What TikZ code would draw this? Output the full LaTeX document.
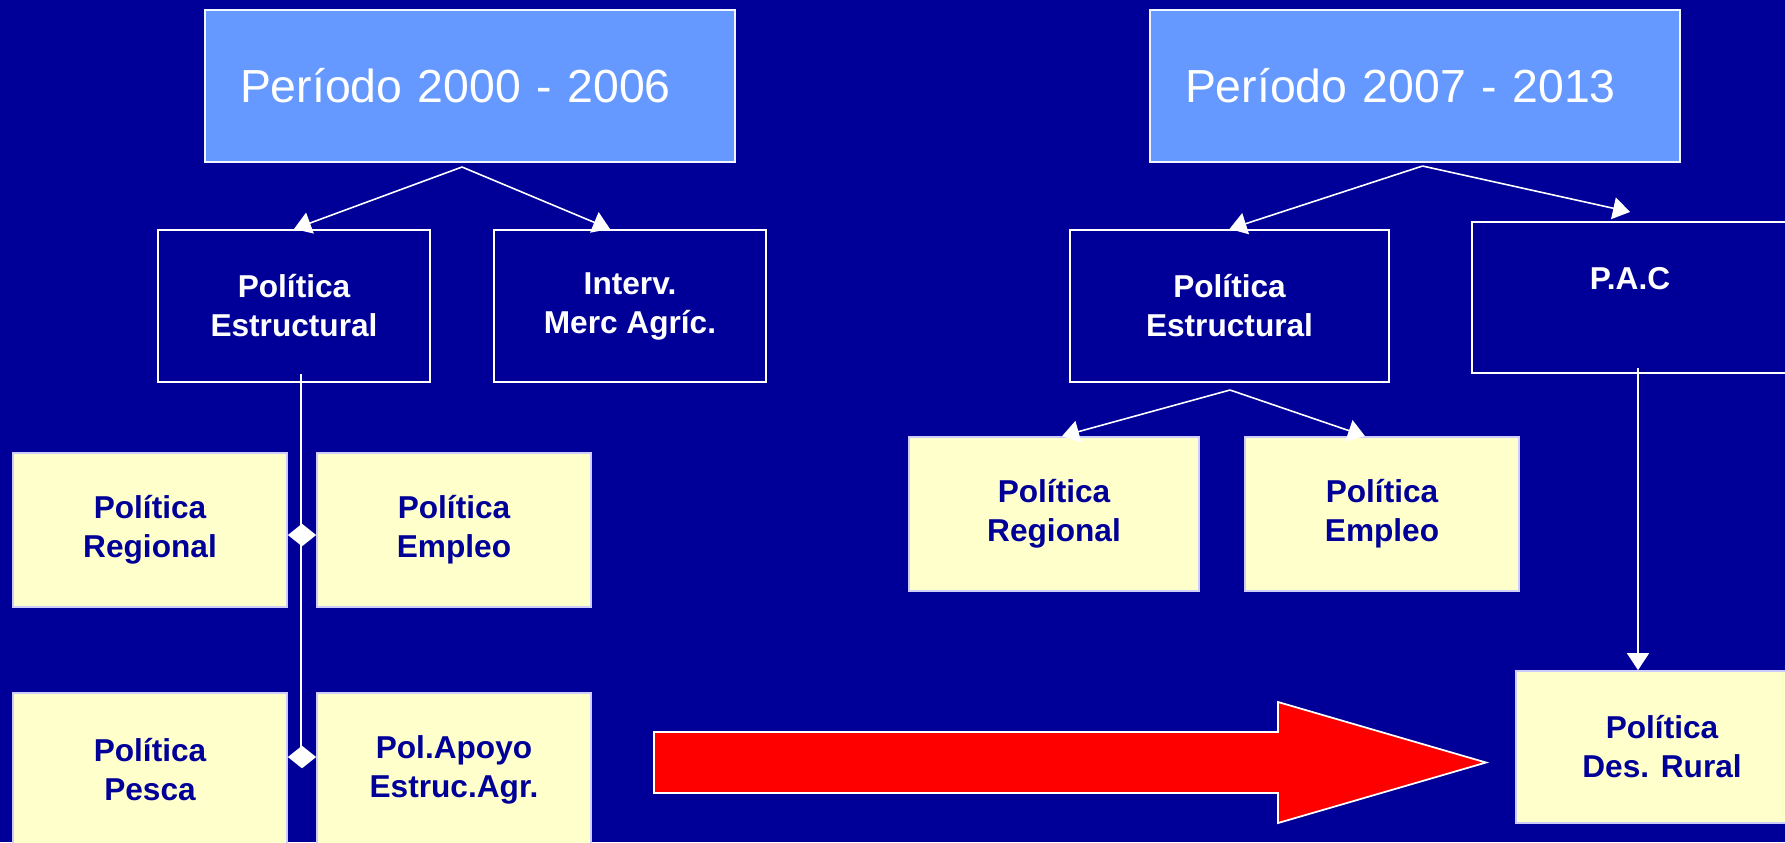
\documentclass[tikz,border=0pt]{standalone}
\usepackage{fontspec}
\setmainfont{Liberation Sans}
\usetikzlibrary{arrows.meta}

\definecolor{fondo}{RGB}{0,0,153}
\definecolor{celeste}{RGB}{102,153,255}
\definecolor{crema}{RGB}{255,255,204}
\definecolor{lila}{RGB}{204,204,255}

\begin{document}
\begin{tikzpicture}
[
    periodo/.style={shape=rectangle, draw=white!90!celeste, line width=0.6pt, fill=celeste, text=white,
        minimum width=5.3cm, minimum height=1.52cm, text width=4.6cm, align=left,
        font=\fontsize{13.2}{16}\selectfont},
    azul/.style={shape=rectangle, draw=white, line width=0.6pt, fill=fondo, text=white, align=center,
        minimum height=1.52cm, font=\fontsize{9}{11.1}\selectfont\bfseries},
    amarilla/.style={shape=rectangle, draw=lila, line width=0.5pt, fill=crema, text=fondo, align=center,
        minimum width=2.74cm, minimum height=1.54cm, font=\fontsize{9}{11.1}\selectfont\bfseries},
    flecha/.style={draw=white, line width=0.45pt, -{Triangle[length=1.7mm,width=2.2mm]}},
    punta/.style={draw=white, line width=0.45pt, -{Triangle[length=1.4mm,width=2.2mm]}},
]

\useasboundingbox (0,0) rectangle (17.85,-8.42);
\clip (0,0) rectangle (17.85,-8.42);
\fill[fondo] (0,0) rectangle (17.85,-8.42);

% periodo 2000 - 2006
\node(p1) at (4.70,-0.86)[periodo]{Período 2000 - 2006};
\node(est1) at (2.94,-3.06)[azul, minimum width=2.72cm]{Política\\Estructural};
\node(int1) at (6.30,-3.06)[azul, minimum width=2.72cm]{Interv.\\Merc Agríc.};
\node(reg1) at (1.50,-5.30)[amarilla]{Política\\Regional};
\node(emp1) at (4.54,-5.30)[amarilla]{Política\\Empleo};
\node(pes1) at (1.50,-7.70)[amarilla]{Política\\Pesca};
\node(apo1) at (4.54,-7.70)[amarilla]{Pol.Apoyo\\Estruc.Agr.};

\coordinate(a1) at (4.62,-1.67);
\draw[flecha] (a1) to (est1.north);
\draw[flecha] (a1) to ([xshift=-0.2cm]int1.north);

\coordinate(v1) at (3.01,-3.74);
\coordinate(v2) at (3.01,-5.35);
\coordinate(v3) at (3.01,-7.57);
\draw[white, line width=0.45pt] (v1) to (v3);
\draw[punta] (v2) to (v2 -| reg1.east);
\draw[punta] (v2) to (v2 -| emp1.west);
\draw[punta] (v3) to (v3 -| pes1.east);
\draw[punta] (v3) to (v3 -| apo1.west);

% periodo 2007 - 2013
\node(p2) at (14.15,-0.86)[periodo]{Período 2007 - 2013};
\node(est2) at (12.295,-3.06)[azul, minimum width=3.19cm]{Política\\Estructural};
\node(pac) at (16.30,-2.975)[azul, minimum width=3.16cm, minimum height=1.51cm]{P.A.C\\\mbox{}};
\node(reg2) at (10.54,-5.14)[amarilla, minimum width=2.90cm]{Política\\Regional};
\node(emp2) at (13.82,-5.14)[amarilla]{Política\\Empleo};
\node(des) at (16.62,-7.47)[amarilla, minimum width=2.92cm, minimum height=1.52cm]{Política\\Des. Rural};

\coordinate(a2) at (14.225,-1.66);
\draw[flecha] (a2) to (est2.north);
\draw[flecha] (a2) to ([yshift=0.09cm]pac.north);

\coordinate(a3) at (12.30,-3.90);
\draw[flecha] (a3) to ([xshift=0.08cm]reg2.north);
\draw[flecha] (a3) to ([xshift=-0.17cm]emp2.north);

\coordinate(v4) at (16.38,-3.68);
\draw[flecha] (v4) to (v4 |- des.north);

% flecha roja
\draw[white, line width=0.5pt, fill=red] (6.54,-7.32) -- (12.78,-7.32) -- (12.78,-7.02) -- (14.86,-7.625)
    -- (12.78,-8.23) -- (12.78,-7.93) -- (6.54,-7.93) -- cycle;

\end{tikzpicture}
\end{document}
